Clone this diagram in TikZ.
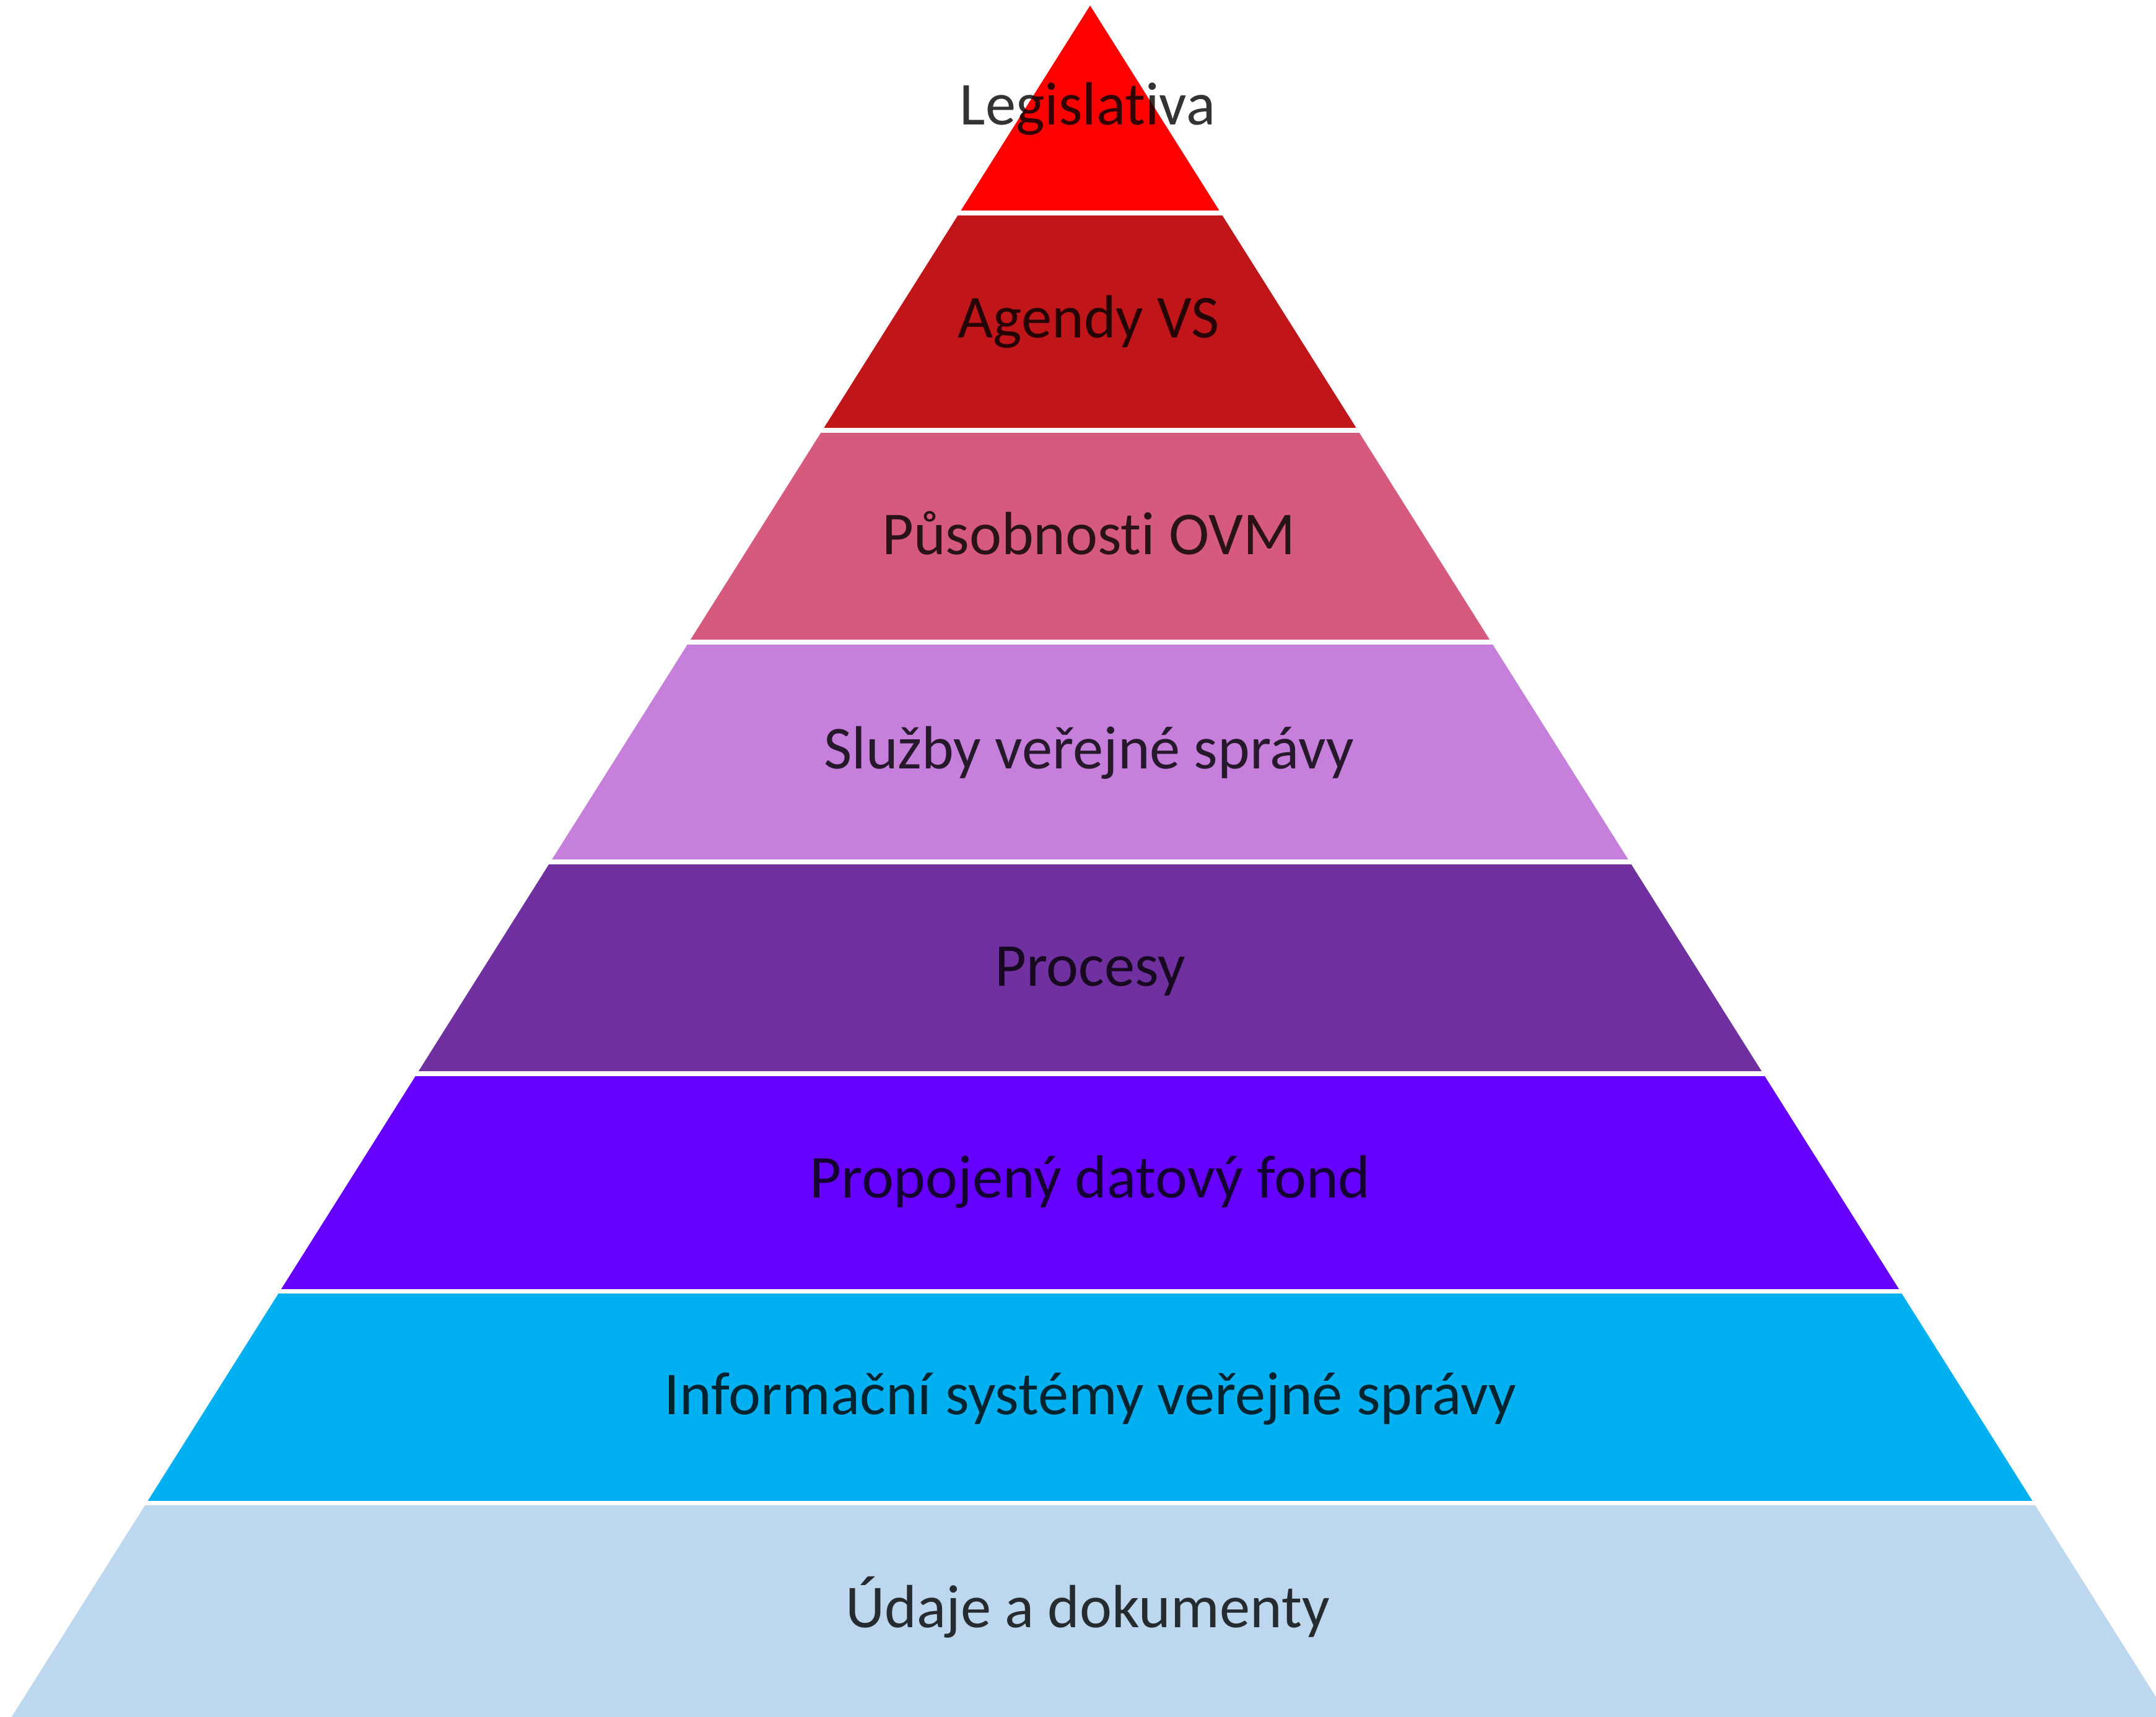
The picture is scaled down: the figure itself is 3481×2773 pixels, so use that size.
\documentclass[tikz,border=0pt]{standalone}
\usepackage{fontspec}
\setmainfont[Ligatures=NoCommon]{Carlito}
\definecolor{cLeg}{RGB}{255,0,0}
\definecolor{cAge}{RGB}{192,22,26}
\definecolor{cPus}{RGB}{213,90,126}
\definecolor{cSlu}{RGB}{198,128,220}
\definecolor{cPro}{RGB}{112,48,160}
\definecolor{cPdf}{RGB}{102,0,255}
\definecolor{cIsv}{RGB}{0,176,240}
\definecolor{cUda}{RGB}{189,215,238}
\begin{document}
\begin{tikzpicture}[x=0.01cm,y=-0.01cm,
  layer/.style={fill=#1},
  gap/.style={draw=white,line width=2pt},
  lbl/.style={anchor=base,inner sep=0pt,text=black,text opacity=0.8,font=\fontsize{28}{34}\selectfont}]
\useasboundingbox (0,0) rectangle (3481,2773);
\fill[white] (0,0) rectangle (3481,2773);
\clip (0,0) rectangle (3481,2773);
% layers (apex at (1760,9), half-width slope 0.63)
\fill[layer=cLeg] (1760,9) -- (1971.05,344) -- (1548.95,344) -- cycle;
\fill[layer=cAge] (1548.95,344) -- (1971.05,344) -- (2192.2,695) -- (1327.8,695) -- cycle;
\fill[layer=cPus] (1327.8,695) -- (2192.2,695) -- (2407.6,1037) -- (1112.4,1037) -- cycle;
\fill[layer=cSlu] (1112.4,1037) -- (2407.6,1037) -- (2631.3,1392) -- (888.7,1392) -- cycle;
\fill[layer=cPro] (888.7,1392) -- (2631.3,1392) -- (2846.75,1734) -- (673.25,1734) -- cycle;
\fill[layer=cPdf] (673.25,1734) -- (2846.75,1734) -- (3067.9,2085) -- (452.1,2085) -- cycle;
\fill[layer=cIsv] (452.1,2085) -- (3067.9,2085) -- (3283.3,2427) -- (236.7,2427) -- cycle;
\fill[layer=cUda] (236.7,2427) -- (3283.3,2427) -- (3501.3,2773) -- (18.7,2773) -- cycle;
% white separators
\foreach \yy/\xl/\xr in {344/1548.95/1971.05,695/1327.8/2192.2,1037/1112.4/2407.6,1392/888.7/2631.3,1734/673.25/2846.75,2085/452.1/3067.9,2427/236.7/3283.3}
  \draw[gap] (\xl-8,\yy) -- (\xr+8,\yy);
% labels
\node[lbl] (leg) at (1756,202) {Legislativa};
\node[lbl] (age) at (1758,546) {Agendy VS};
\node[lbl] (pus) at (1758,895) {Působnosti OVM};
\node[lbl] (slu) at (1758,1241) {Služby veřejné správy};
\node[lbl] (pro) at (1760,1592) {Procesy};
\node[lbl] (pdf) at (1760,1934) {Propojený datový fond};
\node[lbl] (isv) at (1760,2284) {Informační systémy veřejné správy};
\node[lbl] (uda) at (1756,2628) {Údaje a dokumenty};
\end{tikzpicture}
\end{document}
